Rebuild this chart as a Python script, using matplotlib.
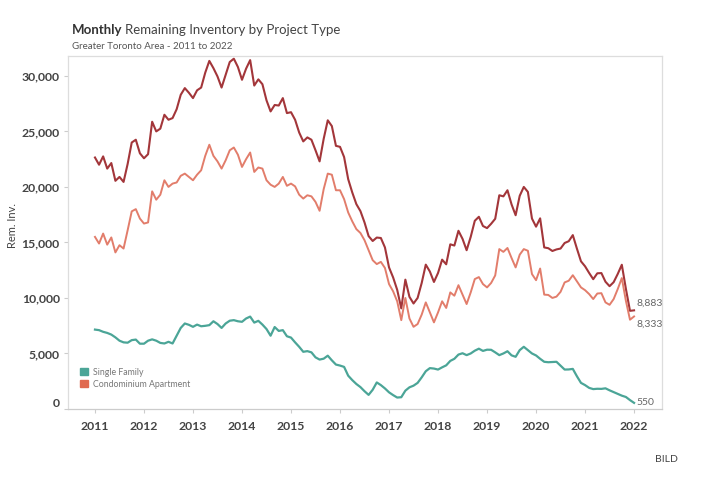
import matplotlib
matplotlib.use("Agg")
import matplotlib.pyplot as plt
import matplotlib.patches as mpatches
import numpy as np

plt.rcParams['font.family'] = ['Lato', 'DejaVu Sans']

# monthly values, Jan 2011 .. Jan 2022
single_family = [
    7150, 7100, 6950, 6850, 6700, 6450, 6150, 6000, 5970, 6200, 6250, 5880,
    5880, 6150, 6270, 6150, 5950, 5900, 6050, 5900, 6600, 7300, 7700, 7580,
    7400, 7600, 7450, 7490, 7550, 7900, 7650, 7300, 7700, 7950, 8000, 7900,
    7850, 8150, 8320, 7780, 7940, 7600, 7200, 6600, 7380, 7030, 7100, 6550,
    6430, 6000, 5600, 5150, 5210, 5100, 4650, 4450, 4530, 4800, 4380, 4000,
    3910, 3790, 3000, 2600, 2250, 1970, 1600, 1270, 1730, 2390, 2150, 1850,
    1500, 1250, 1030, 1060, 1650, 1950, 2100, 2350, 2850, 3400, 3680, 3640,
    3550, 3750, 3930, 4330, 4520, 4900, 5020, 4850, 5000, 5250, 5430, 5230,
    5340, 5330, 5100, 4850, 5000, 5200, 4830, 4700, 5300, 5600, 5300, 5000,
    4820, 4520, 4250, 4210, 4230, 4250, 3900, 3550, 3560, 3610, 2950, 2350,
    2150, 1900, 1790, 1820, 1810, 1860, 1680, 1520, 1360, 1200, 1080, 800,
    550,
]
condo = [
    15500, 14900, 15800, 14800, 15450, 14100, 14750, 14450, 16100, 17800, 18000, 17150,
    16700, 16800, 19600, 18850, 19300, 20600, 20000, 20300, 20400, 21000, 21200, 20900,
    20600, 21100, 21500, 22800, 23800, 22800, 22300, 21650, 22400, 23300, 23550, 22900,
    21800, 22500, 23100, 21350, 21750, 21650, 20600, 20200, 20000, 20300, 20900, 20100,
    20300, 20050, 19300, 18950, 19250, 19150, 18650, 17850, 19800, 21200, 21100, 19700,
    19700, 18900, 17700, 16900, 16200, 15850, 15200, 14300, 13400, 13050, 13250, 12700,
    11250, 10600, 9700, 8000, 10000, 8150, 7400, 7650, 8500, 9600, 8700, 7800,
    8700, 9700, 9100, 10500, 10200, 11150, 10300, 9450, 10500, 11700, 11880, 11250,
    10950, 11350, 12030, 14400, 14150, 14500, 13600, 12750, 13900, 14400, 14250, 12150,
    11600, 12650, 10300, 10270, 10000, 10120, 10550, 11400, 11550, 12050, 11500, 10950,
    10700, 10350, 9900, 10400, 10430, 9600, 9380, 9900, 10800, 11790, 9740, 8040,
    8333,
]
# total remaining inventory = condo + single family (8,333 + 550 = 8,883)
total = list(np.array(condo) + np.array(single_family))

months = 2011 + np.arange(len(condo)) / 12
years = list(range(2011, 2023))
yticks = [0, 5000, 10000, 15000, 20000, 25000, 30000]

c_total = '#a3363a'
c_condo = '#e27d6b'
c_sf = '#4ba597'
c_legend_condo = '#e0694f'

fig = plt.figure(figsize=(7.1, 4.82), dpi=100)
ax = fig.add_axes([0.0958, 0.1515, 0.8366, 0.7325])

ax.plot(months, total, color=c_total, lw=1.5, solid_joinstyle='round')
ax.plot(months, condo, color=c_condo, lw=1.4, solid_joinstyle='round')
ax.plot(months, single_family, color=c_sf, lw=1.6, solid_joinstyle='round')

ax.set_xlim(2010.45, 2022.57)
ax.set_ylim(0, 31800)
ax.set_xticks(years)
ax.set_xticklabels([str(y) for y in years], fontsize=8.8, fontweight='bold', color='#444444')
ax.set_yticks(yticks)
ax.set_yticklabels([f'{v:,}' for v in yticks], fontsize=8.8, fontweight='bold', color='#444444')
ax.tick_params(axis='both', length=3, color='#cccccc', width=0.8)
ax.tick_params(axis='x', pad=6)
ax.tick_params(axis='y', pad=3)
# nudge the "0" label up like the original
ylabels = ax.get_yticklabels()
ylabels[0].set_va('bottom')

for s in ax.spines.values():
    s.set_color('#dddddd')
    s.set_linewidth(0.9)
ax.spines['bottom'].set_color('#cccccc')

ax.set_ylabel('Rem. Inv.', fontsize=8, color='#444444')
ax.yaxis.set_label_coords(-0.084, 0.52)

# end labels
ax.text(months[-1] + 0.05, total[-1] + 250, f'{total[-1]:,}', fontsize=7.5, color='#666666', va='bottom')
ax.text(months[-1] + 0.05, condo[-1] - 250, f'{condo[-1]:,}', fontsize=7.5, color='#666666', va='top')
ax.text(months[-1] + 0.05, single_family[-1], f'{single_family[-1]:,}', fontsize=7.5, color='#666666', va='center')

# legend
handles = [mpatches.Patch(color=c_sf, label='Single Family'),
           mpatches.Patch(color=c_legend_condo, label='Condominium Apartment')]
leg = ax.legend(handles=handles, loc='lower left', bbox_to_anchor=(0.01, 0.04), frameon=False,
                fontsize=6.3, handlelength=0.9, handleheight=0.9, handletextpad=0.6,
                labelspacing=0.35, borderaxespad=0.3)
for t in leg.get_texts():
    t.set_color('#777777')

# titles
t1 = fig.text(72 / 710, 1 - 34 / 482, 'Monthly', fontsize=9.5, fontweight='bold', color='#333333',
              va='baseline')
plt.annotate('Remaining Inventory by Project Type', xy=(1, 0), xycoords=t1,
             xytext=(2, 0), textcoords='offset points', fontsize=9.5, color='#444444',
             va='bottom', annotation_clip=False)
fig.text(72 / 710, 1 - 46.5 / 482, 'Greater Toronto Area - 2011 to 2022', fontsize=7.0,
         color='#555555', va='center')
fig.text(655 / 710, 1 - 460 / 482, 'BILD', fontsize=7.5, color='#444444', va='center')

fig.savefig('out.png', dpi=100, facecolor='white')
